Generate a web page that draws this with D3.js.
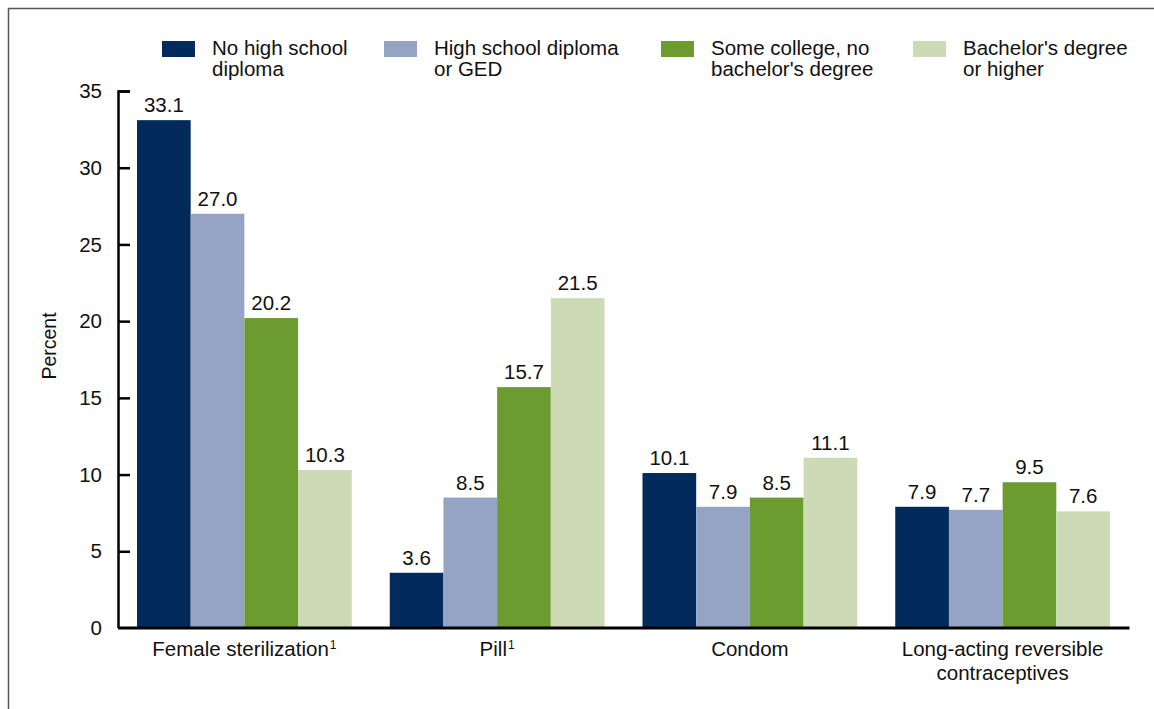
<!DOCTYPE html>
<html>
<head>
<meta charset="utf-8">
<script src="https://cdn.jsdelivr.net/npm/d3@7"></script>
<style>
  html, body { margin: 0; padding: 0; background: #fff; }
  svg { display: block; font-family: "Liberation Sans", Arial, sans-serif; }
</style>
</head>
<body>
<svg id="chart" width="1154" height="709"></svg>
<script>
// Contraceptive method by education level (percent)
const methods = ["Female sterilization", "Pill", "Condom", "Long-acting reversible contraceptives"];
const methodLines = [["Female sterilization"], ["Pill"], ["Condom"], ["Long-acting reversible", "contraceptives"]];
const methodNote = [true, true, false, false];
const education = ["No high school diploma", "High school diploma or GED", "Some college, no bachelor's degree", "Bachelor's degree or higher"];
const legendLines = [["No high school", "diploma"], ["High school diploma", "or GED"], ["Some college, no", "bachelor's degree"], ["Bachelor's degree", "or higher"]];
const noDiploma   = [33.1, 3.6, 10.1, 7.9];
const highSchool  = [27.0, 8.5, 7.9, 7.7];
const someCollege = [20.2, 15.7, 8.5, 9.5];
const bachelors   = [10.3, 21.5, 11.1, 7.6];
const yTicks = [0, 5, 10, 15, 20, 25, 30, 35];
const colors = ["#022b5c", "#95a4c4", "#6c9b30", "#ccdab6"];

const FS = 20.5;
const seriesValues = [noDiploma, highSchool, someCollege, bachelors];
const rows = methods.map((m, i) => ({
  method: m,
  values: education.map((e, j) => ({ key: e, value: seriesValues[j][i] }))
}));

const svg = d3.select("#chart");
const margin = { left: 118, right: 25, top: 91, bottom: 81 };
const W = 1154, H = 709;
const plotW = W - margin.left - margin.right;
const plotH = H - margin.top - margin.bottom;

// frame lines (top and left)
svg.append("path")
  .attr("d", `M8.5,${H} V8.5 H${W}`)
  .attr("fill", "none").attr("stroke", "#555").attr("stroke-width", 1.5);

const g = svg.append("g").attr("transform", `translate(${margin.left},${margin.top})`);

const x0 = d3.scaleBand().domain(methods).range([0, plotW]).paddingInner(0).paddingOuter(0);
const x1 = d3.scaleBand().domain(education).range([19, x0.bandwidth() - 19]).padding(0);
const y = d3.scaleLinear().domain([0, 35]).range([plotH, 0]);
const color = d3.scaleOrdinal().domain(education).range(colors);

// bars
const groups = g.selectAll("g.grp").data(rows).join("g")
  .attr("class", "grp")
  .attr("transform", d => `translate(${x0(d.method)},0)`);

groups.selectAll("rect").data(d => d.values).join("rect")
  .attr("x", d => x1(d.key))
  .attr("width", x1.bandwidth())
  .attr("y", d => y(d.value))
  .attr("height", d => y(0) - y(d.value))
  .attr("fill", d => color(d.key));

groups.selectAll("text.val").data(d => d.values).join("text")
  .attr("class", "val")
  .attr("x", d => x1(d.key) + x1.bandwidth() / 2)
  .attr("y", d => y(d.value) - 8)
  .attr("text-anchor", "middle")
  .attr("font-size", FS)
  .attr("fill", "#111")
  .text(d => d.value.toFixed(1));

// y axis with inward ticks
const yAxis = d3.axisRight(y).tickValues(yTicks).tickSize(12).tickFormat("");
const ya = g.append("g").call(yAxis);
ya.select(".domain").attr("d", `M12,0.5H0.5V${plotH}`).attr("stroke", "#000").attr("stroke-width", 2.5).attr("fill", "none");
ya.selectAll(".tick line").attr("stroke", "#000").attr("stroke-width", 2.5);
ya.selectAll(".tick").filter(d => d === 0).select("line").remove();

g.selectAll("text.ytick").data(yTicks).join("text")
  .attr("class", "ytick")
  .attr("x", -16)
  .attr("y", d => y(d))
  .attr("dy", "0.35em")
  .attr("text-anchor", "end")
  .attr("font-size", FS)
  .attr("fill", "#111")
  .text(d => d);

// x axis line
g.append("line")
  .attr("x1", 0).attr("x2", plotW + 0.5)
  .attr("y1", plotH).attr("y2", plotH)
  .attr("stroke", "#000").attr("stroke-width", 3);

// category labels
const cat = g.selectAll("text.cat").data(methods).join("text")
  .attr("class", "cat")
  .attr("text-anchor", "middle")
  .attr("font-size", FS)
  .attr("fill", "#111")
  .attr("transform", d => `translate(${x0(d) + x0.bandwidth() / 2},${plotH + 28})`);

cat.each(function(d, i) {
  const t = d3.select(this);
  methodLines[i].forEach((line, k) => {
    t.append("tspan").attr("x", 0).attr("y", k * 24).text(line);
  });
  if (methodNote[i]) {
    t.append("tspan").attr("font-size", 12).attr("dx", 1).attr("dy", -7).text("1");
  }
});

// y axis title
svg.append("text")
  .attr("transform", `translate(56,346) rotate(-90)`)
  .attr("text-anchor", "middle")
  .attr("font-size", FS - 1)
  .attr("fill", "#111")
  .text("Percent");

// legend
const legendX = [162, 384, 661, 913];
const leg = svg.selectAll("g.leg").data(education).join("g")
  .attr("class", "leg")
  .attr("transform", (d, i) => `translate(${legendX[i]},41)`);
leg.append("rect").attr("width", 33).attr("height", 16).attr("fill", d => color(d));
leg.append("text")
  .attr("font-size", FS)
  .attr("fill", "#111")
  .each(function(d, i) {
    const t = d3.select(this);
    legendLines[i].forEach((line, k) => {
      t.append("tspan").attr("x", 50).attr("y", 14 + k * 21).text(line);
    });
  });
</script>
</body>
</html>
